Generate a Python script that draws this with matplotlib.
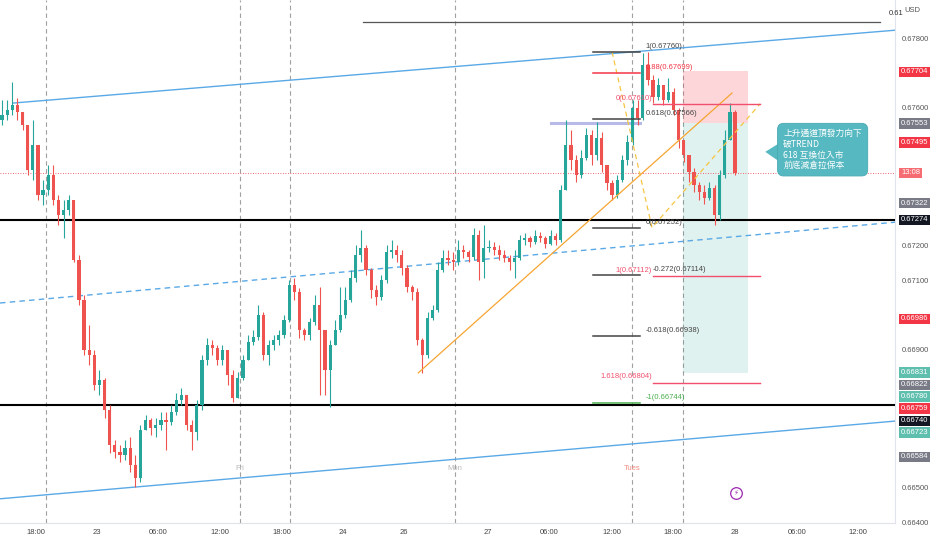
import numpy as np
import matplotlib.pyplot as plt
from matplotlib.transforms import blended_transform_factory
from matplotlib.patches import Polygon, Rectangle

plt.rcParams['font.family'] = ['Liberation Sans', 'DejaVu Sans']

# 30 minute bars (bar index 0 = first visible bar)
first_open = 0.67563
closes = [0.67578, 0.67592, 0.67607, 0.67586, 0.67549, 0.67419, 0.67491, 0.67346, 0.67361, 0.67404,
          0.67332, 0.67289, 0.67303, 0.67332, 0.67159, 0.67043, 0.66898, 0.66884, 0.66797, 0.66812,
          0.66725, 0.66624, 0.66604, 0.66595, 0.66615, 0.66566, 0.66529, 0.66667, 0.66696, 0.66673,
          0.66682, 0.66696, 0.66690, 0.66719, 0.66754, 0.66768, 0.66682, 0.66662, 0.66740, 0.66870,
          0.66913, 0.66904, 0.66870, 0.66898, 0.66826, 0.66760, 0.66818, 0.66870, 0.66922, 0.66936,
          0.67000, 0.66884, 0.66913, 0.66927, 0.66942, 0.66985, 0.67086, 0.67066, 0.66956, 0.66942,
          0.66979, 0.67029, 0.66956, 0.66841, 0.66913, 0.66956, 0.67000, 0.67043, 0.67107, 0.67173,
          0.67193, 0.67130, 0.67072, 0.67052, 0.67101, 0.67182, 0.67187, 0.67173, 0.67135, 0.67081,
          0.67066, 0.66927, 0.66884, 0.66991, 0.67014, 0.67130, 0.67164, 0.67159, 0.67153, 0.67187,
          0.67182, 0.67167, 0.67231, 0.67153, 0.67193, 0.67196, 0.67187, 0.67173, 0.67164, 0.67153,
          0.67164, 0.67216, 0.67222, 0.67211, 0.67228, 0.67222, 0.67205, 0.67228, 0.67216, 0.67361,
          0.67491, 0.67448, 0.67404, 0.67453, 0.67520, 0.67462, 0.67511, 0.67433, 0.67381, 0.67346,
          0.67390, 0.67448, 0.67500, 0.67598, 0.67569, 0.67722, 0.67679, 0.67630, 0.67664, 0.67621,
          0.67644, 0.67592, 0.67505, 0.67462, 0.67413, 0.67375, 0.67355, 0.67338, 0.67367, 0.67289,
          0.67404, 0.67505, 0.67586, 0.67410]
highs = [0.67621, 0.67621, 0.67673, 0.67627, 0.67586, 0.67505, 0.67563, 0.67491, 0.67390, 0.67433,
         0.67433, 0.67346, 0.67332, 0.67346, 0.67332, 0.67173, 0.67057, 0.66971, 0.66898, 0.66841,
         0.66818, 0.66740, 0.66638, 0.66624, 0.66638, 0.66647, 0.66595, 0.66682, 0.66711, 0.66702,
         0.66702, 0.66719, 0.66719, 0.66740, 0.66774, 0.66789, 0.66768, 0.66696, 0.66754, 0.66884,
         0.66933, 0.66927, 0.66913, 0.66913, 0.66898, 0.66841, 0.66835, 0.66884, 0.66942, 0.66956,
         0.67029, 0.67008, 0.66927, 0.66942, 0.66956, 0.67000, 0.67101, 0.67107, 0.67078, 0.66962,
         0.66991, 0.67057, 0.67081, 0.66942, 0.66927, 0.66985, 0.67081, 0.67081, 0.67130, 0.67202,
         0.67245, 0.67202, 0.67135, 0.67086, 0.67115, 0.67202, 0.67216, 0.67202, 0.67187, 0.67144,
         0.67086, 0.67078, 0.66933, 0.67008, 0.67029, 0.67153, 0.67187, 0.67187, 0.67182, 0.67216,
         0.67202, 0.67187, 0.67251, 0.67245, 0.67260, 0.67216, 0.67211, 0.67202, 0.67187, 0.67173,
         0.67187, 0.67231, 0.67237, 0.67228, 0.67245, 0.67240, 0.67228, 0.67245, 0.67237, 0.67375,
         0.67563, 0.67534, 0.67462, 0.67477, 0.67540, 0.67534, 0.67557, 0.67529, 0.67433, 0.67390,
         0.67404, 0.67462, 0.67520, 0.67621, 0.67621, 0.67757, 0.67760, 0.67693, 0.67685, 0.67664,
         0.67685, 0.67656, 0.67598, 0.67505, 0.67462, 0.67424, 0.67384, 0.67375, 0.67384, 0.67375,
         0.67419, 0.67534, 0.67612, 0.67592]
lows = [0.67549, 0.67563, 0.67578, 0.67563, 0.67534, 0.67404, 0.67390, 0.67332, 0.67318, 0.67346,
        0.67318, 0.67260, 0.67222, 0.67289, 0.67153, 0.67029, 0.66884, 0.66855, 0.66783, 0.66768,
        0.66702, 0.66601, 0.66586, 0.66575, 0.66581, 0.66546, 0.66503, 0.66517, 0.66667, 0.66653,
        0.66647, 0.66667, 0.66609, 0.66682, 0.66711, 0.66740, 0.66667, 0.66609, 0.66638, 0.66725,
        0.66855, 0.66884, 0.66855, 0.66855, 0.66797, 0.66748, 0.66768, 0.66812, 0.66870, 0.66913,
        0.66927, 0.66870, 0.66855, 0.66898, 0.66913, 0.66933, 0.66979, 0.67043, 0.66933, 0.66927,
        0.66927, 0.66971, 0.66768, 0.66768, 0.66734, 0.66913, 0.66951, 0.66991, 0.67037, 0.67095,
        0.67153, 0.67115, 0.67049, 0.67029, 0.67043, 0.67092, 0.67164, 0.67153, 0.67115, 0.67066,
        0.67043, 0.66913, 0.66832, 0.66875, 0.66985, 0.67008, 0.67124, 0.67144, 0.67130, 0.67144,
        0.67164, 0.67153, 0.67159, 0.67101, 0.67107, 0.67182, 0.67173, 0.67159, 0.67153, 0.67130,
        0.67107, 0.67159, 0.67202, 0.67196, 0.67205, 0.67211, 0.67193, 0.67202, 0.67202, 0.67211,
        0.67361, 0.67419, 0.67384, 0.67396, 0.67448, 0.67433, 0.67448, 0.67413, 0.67361, 0.67332,
        0.67338, 0.67384, 0.67433, 0.67491, 0.67549, 0.67563, 0.67664, 0.67612, 0.67621, 0.67607,
        0.67615, 0.67578, 0.67482, 0.67442, 0.67384, 0.67355, 0.67332, 0.67320, 0.67332, 0.67260,
        0.67274, 0.67396, 0.67505, 0.67404]

time_ticks = [6.7, 18.5, 30.4, 42.5, 54.6, 66.5, 78.4, 94.8, 106.7, 119.0, 130.9, 143.0, 155.1, 167.0]
time_labels = ['18:00', '23', '06:00', '12:00', '18:00', '24', '26', '27',
               '06:00', '12:00', '18:00', '28', '06:00', '12:00']

# price scale labels that are not hidden behind a coloured tag
price_ticks = [0.664, 0.665, 0.669, 0.671, 0.672, 0.676, 0.678]

# drawings (bar index, price)
upper_channel = [(2.1, 0.67612), (174.5, 0.67823)]
lower_channel = [(-0.4, 0.66468), (174.5, 0.66693)]
mid_channel = [(-0.4, 0.67034), (174.5, 0.67268)]
support_levels = [0.67274, 0.66740]
top_line = [(70.4, 171.3), 0.67846]
entry_line = [(107.1, 124.5), 0.67553]
last_price = 0.67410
trend_line = [(81.2, 0.66832), (142.4, 0.67641)]
fib_path = [(119.0, 0.67760), (126.8, 0.67252), (147.9, 0.67610)]
session_lines = [8.6, 46.4, 56.2, 88.4, 122.9, 132.9]
day_marks = [(46.4, 'Fri'), (88.4, 'Mon'), (122.9, 'Tues')]

fib_black_x = (115.3, 124.5)
fib_black_levels = ['1', '0.88', '0.618', '0', '-0.272', '-0.618', '-1']
fib_black_prices = [0.67760, 0.67699, 0.67566, 0.67252, 0.67114, 0.66938, 0.66744]
fib_black_colors = ['#444444', '#f23645', '#444444', '#444444', '#444444', '#444444', '#4caf50']
fib_black_label_x = [125.5, 125.5, 125.5, 125.5, 127.0, 125.5, 125.5]

fib_red_x = (127.0, 147.9)
fib_red_levels = ['0', '1', '1.618']
fib_red_prices = [0.67610, 0.67112, 0.66804]

short_x = (132.9, 145.6)
short_stop, short_entry, short_target = 0.67704, 0.67553, 0.66831

note_text = '上升通道頂發力向下\n破TREND\n618 互換位入市\n前底減倉拉保本'

price_tags = [('0.67704', 0.67702, '#f23645'), ('0.67553', 0.67552, '#787b86'),
              ('0.67495', 0.67497, '#f23645'), ('13:08', 0.67410, '#f56c72'),
              ('0.67322', 0.67323, '#787b86'), ('0.67274', 0.67274, '#131722'),
              ('0.66986', 0.66988, '#f23645'), ('0.66831', 0.66832, '#5fbfae'),
              ('0.66822', 0.66797, '#787b86'), ('0.66780', 0.66763, '#5fbfae'),
              ('0.66759', 0.66728, '#f23645'), ('0.66740', 0.66693, '#131722'),
              ('0.66723', 0.66659, '#5fbfae'), ('0.66584', 0.66589, '#787b86')]

UP, DOWN = '#26a69a', '#ef5350'

fig = plt.figure(figsize=(9.32, 5.5), dpi=100)
ax = fig.add_axes([0, 27 / 550, 895 / 932, 523 / 550])
ax.set_xlim(-0.4, 174.2)
ax.set_ylim(0.66398, 0.67910)

# candles
c = np.array(closes)
o = np.array([first_open] + closes[:-1])
h = np.maximum(np.array(highs), np.maximum(o, c))
l = np.minimum(np.array(lows), np.minimum(o, c))
x = np.arange(len(c))
cols = np.where(c >= o, UP, DOWN)
ax.vlines(x, l, h, colors=cols, lw=0.8, zorder=4)
body = np.maximum(np.abs(c - o), 0.00002)
ax.bar(x, body, bottom=np.minimum(o, c), width=0.62, color=cols, zorder=4)

# session separators
for sx in session_lines:
    ax.axvline(sx, color='#a0a0a0', lw=0.8, ls=(0, (4, 3)), zorder=1)
for dx, name in day_marks:
    ax.text(dx, 0.66557, name, fontsize=5.5, ha='center', va='center',
            color='#f28b82' if name == 'Tues' else '#b8b8b8', zorder=2)

# channel
for (x0, p0), (x1, p1) in [upper_channel, lower_channel]:
    ax.plot([x0, x1], [p0, p1], color='#5aa9e6', lw=1.0, zorder=3)
(x0, p0), (x1, p1) = mid_channel
ax.plot([x0, x1], [p0, p1], color='#5aa9e6', lw=1.0, ls=(0, (4, 3)), zorder=3)

for lv in support_levels:
    ax.axhline(lv, color='black', lw=1.5, zorder=3)
ax.plot(top_line[0], [top_line[1]] * 2, color='#555555', lw=0.9, zorder=3)
ax.text(172.9, 0.67870, '0.61', fontsize=5.5, color='#333333', ha='left', va='center')
ax.plot(entry_line[0], [entry_line[1]] * 2, color='#b7b9e8', lw=2.2, zorder=3)
ax.axhline(last_price, color='#f23645', lw=0.6, ls=(0, (1, 2)), zorder=2)

# short position
ax.add_patch(Rectangle((short_x[0], short_entry), short_x[1] - short_x[0], short_stop - short_entry,
                       color='#f23645', alpha=0.2, lw=0, zorder=1))
ax.add_patch(Rectangle((short_x[0], short_target), short_x[1] - short_x[0], short_entry - short_target,
                       color='#089981', alpha=0.12, lw=0, zorder=1))

# trend line and fib path
ax.plot(*zip(*trend_line), color='#f7a531', lw=0.9, zorder=5)
ax.plot(*zip(*fib_path), color='#f5c542', lw=0.9, ls=(0, (4, 3)), zorder=5)

# fib retracement (black)
for lvl, pr, col, lx in zip(fib_black_levels, fib_black_prices, fib_black_colors, fib_black_label_x):
    ax.plot(fib_black_x, [pr, pr], color=col, lw=1.1, zorder=5)
    ax.annotate(f'{lvl}({pr:.5f})', (lx, pr), xytext=(0, 1.5), textcoords='offset points',
                fontsize=5.5, color=col, ha='left', va='bottom', zorder=6)
# fib extension (red)
for lvl, pr in zip(fib_red_levels, fib_red_prices):
    ax.plot(fib_red_x, [pr, pr], color='#f0506e', lw=1.0, zorder=5)
    ax.annotate(f'{lvl}({pr:.5f})', (126.8, pr), xytext=(0, 1.5), textcoords='offset points',
                fontsize=5.5, color='#f0506e', ha='right', va='bottom', zorder=6)

# callout
ax.add_patch(Polygon([(148.9, 0.67471), (152.8, 0.67507), (152.8, 0.67431)],
                     closed=True, fc='#56b8c0', ec='none', zorder=7))
ax.text(152.4, 0.67537, note_text, fontsize=6.3, color='white', ha='left', va='top',
        linespacing=1.25, family=['Noto Sans CJK TC', 'DejaVu Sans'], zorder=8,
        bbox=dict(boxstyle='round,pad=0.65,rounding_size=0.7', fc='#56b8c0', ec='#49a9b1', lw=0.6))

# lightning marker
ax.scatter([143.2], [0.66485], s=70, facecolors='white', edgecolors='#9c27b0', lw=0.9, zorder=6)
ax.text(143.2, 0.66485, '\u26a1', fontsize=5, color='#9c27b0', ha='center', va='center',
        family=['DejaVu Sans'], zorder=7)

# axes styling
for side in ['top', 'left']:
    ax.spines[side].set_visible(False)
for side in ['bottom', 'right']:
    ax.spines[side].set_color('#e0e3eb')
ax.set_xticks(time_ticks)
ax.set_xticklabels(time_labels)
ax.tick_params(axis='x', length=0, pad=4, labelsize=5.5, labelcolor='#444444')
ax.yaxis.tick_right()
ax.set_yticks(price_ticks)
ax.set_yticklabels([f'{v:.5f}' for v in price_ticks])
ax.tick_params(axis='y', length=0, pad=5, labelsize=5.5, labelcolor='#555555')

tr = blended_transform_factory(fig.transFigure, ax.transData)
for txt, pos, bg in price_tags:
    ax.text(901 / 932, pos, txt, transform=tr, fontsize=5.5, color='white', ha='left', va='center',
            clip_on=False, zorder=10,
            bbox=dict(boxstyle='square,pad=0.25', fc=bg, ec='none'))
fig.text(904 / 932, 1 - 10 / 550, 'USD', fontsize=5.5, color='#555555', ha='left', va='center')

fig.savefig('out.png', dpi=100)
